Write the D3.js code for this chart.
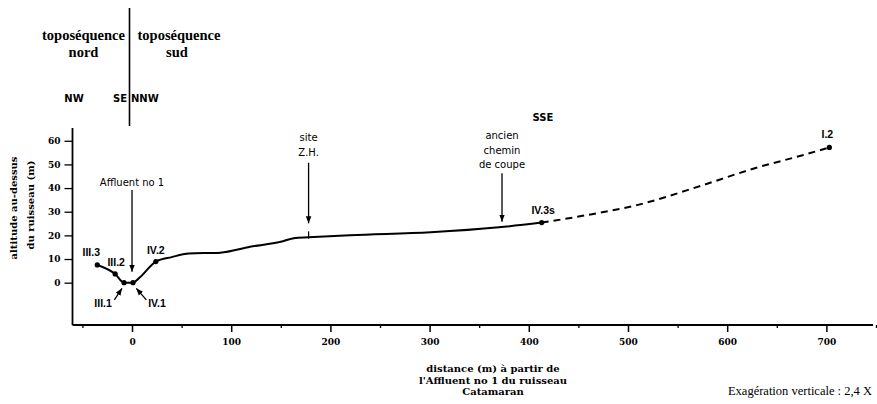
<!DOCTYPE html>
<html><head><meta charset="utf-8">
<script src="https://cdn.jsdelivr.net/npm/d3@7"></script>
<style>body{margin:0;background:#fff}svg{display:block}</style>
</head><body><svg id="c" width="877" height="404"></svg>
<script>
// ---- data ----
const profileDistance = [-35, -17, -8, 1, 8, 24, 40, 57, 89, 119, 150, 163, 178, 220, 301, 370, 413];
const profileAltitude = [7.5, 3.7, 0, 0, 2.3, 8.9, 10.8, 12.3, 12.7, 15.2, 17.3, 18.8, 19.2, 20.1, 21.3, 23.4, 25.4];
const extrapDistance = [413, 459, 509, 576, 627, 677, 703];
const extrapAltitude = [25.4, 28.6, 32.8, 41.3, 48.3, 54.0, 57.2];
const pointNames = ["III.3", "III.2", "III.1", "IV.1", "IV.2", "IV.3s", "I.2"];
const pointDistance = [-35, -17, -8, 1, 24, 413, 703];
const pointAltitude = [7.5, 3.7, 0, 0, 8.9, 25.4, 57.2];
const xTicks = [0, 100, 200, 300, 400, 500, 600, 700];
const xMinorTicks = [-50, 50, 150, 250, 350, 450, 550, 650, 750];
const yTicks = [0, 10, 20, 30, 40, 50, 60];
const siteNames = ["Affluent no 1", "site|Z.H.", "ancien|chemin|de coupe"];
const siteDistance = [0, 178, 373];

// ---- layout ----
const svg = d3.select("#c");
const x = d3.scaleLinear().domain([-60, 747]).range([72.5, 873]);
const y = d3.scaleLinear().domain([-17.9, 65.4]).range([325, 128]);
const serif = "'Liberation Serif','Times New Roman',serif";
const heavySerif = "'DejaVu Serif',serif";
const sans = "'Liberation Sans',Arial,sans-serif";
const dsans = "'DejaVu Sans',sans-serif";

svg.append("defs").append("marker")
  .attr("id", "ah").attr("viewBox", "0 0 10 10").attr("refX", 10).attr("refY", 5)
  .attr("markerWidth", 7).attr("markerHeight", 7).attr("markerUnits", "userSpaceOnUse")
  .attr("orient", "auto")
  .append("path").attr("d", "M0,1 L10,5 L0,9 Z").attr("fill", "#000");

// header
const head = svg.append("g").attr("font-family", serif).attr("font-weight", "bold")
  .attr("font-size", 14.5).attr("text-anchor", "middle").attr("fill", "#000");
head.append("text").attr("x", 83.5).attr("y", 40).text("toposéquence");
head.append("text").attr("x", 83.5).attr("y", 56.5).text("nord");
head.append("text").attr("x", 179).attr("y", 40).text("toposéquence");
head.append("text").attr("x", 177).attr("y", 56.5).text("sud");
svg.append("line").attr("x1", 129.5).attr("x2", 129.5).attr("y1", 8).attr("y2", 126)
  .attr("stroke", "#000").attr("stroke-width", 1.6);
const dirs = svg.append("g").attr("font-family", dsans).attr("font-weight", "bold")
  .attr("font-size", 10).attr("fill", "#000");
dirs.append("text").attr("x", 74).attr("y", 101.5).attr("text-anchor", "middle").text("NW");
dirs.append("text").attr("x", 127).attr("y", 101.5).attr("text-anchor", "end").text("SE");
dirs.append("text").attr("x", 131).attr("y", 101.5).attr("text-anchor", "start").text("NNW");
dirs.append("text").attr("x", 543).attr("y", 120.5).attr("text-anchor", "middle").text("SSE");

// axes
const yAxis = svg.append("g").attr("transform", `translate(${x(-60)},0)`)
  .call(d3.axisLeft(y).tickValues(yTicks).tickSize(8).tickPadding(4));
yAxis.select(".domain").remove();
yAxis.append("line").attr("x1", 0).attr("x2", 0).attr("y1", y(65.4)).attr("y2", y(-17.9))
  .attr("stroke", "#000").attr("stroke-width", 1.8);
yAxis.selectAll(".tick line").attr("stroke-width", 1.3);
yAxis.selectAll("text").attr("font-family", heavySerif).attr("font-weight", "bold")
  .attr("font-size", 9).attr("fill", "#000");

const xAxis = svg.append("g").attr("transform", `translate(0,${y(-17.9)})`)
  .call(d3.axisBottom(x).tickValues(xTicks).tickSize(7).tickPadding(7));
xAxis.select(".domain").remove();
xAxis.append("line").attr("x1", x(-60)).attr("x2", x(747)).attr("y1", 0).attr("y2", 0)
  .attr("stroke", "#000").attr("stroke-width", 2);
xAxis.selectAll(".tick line").attr("stroke-width", 1.5);
xAxis.selectAll("text").attr("font-family", heavySerif).attr("font-weight", "bold")
  .attr("font-size", 9).attr("fill", "#000");
const xMinor = svg.append("g").attr("transform", `translate(0,${y(-17.9)})`)
  .call(d3.axisBottom(x).tickValues(xMinorTicks).tickSize(3).tickFormat(""));
xMinor.select(".domain").remove();
xMinor.selectAll(".tick line").attr("stroke-width", 1.3);

// axis titles
const yt = svg.append("g").attr("font-family", heavySerif).attr("font-weight", "bold")
  .attr("font-size", 10).attr("text-anchor", "middle").attr("fill", "#000");
yt.append("text").attr("transform", "translate(17,208) rotate(-90)").text("altitude  au-dessus");
yt.append("text").attr("transform", "translate(34,205) rotate(-90)").text("du ruisseau (m)");
const xt = svg.append("g").attr("font-family", heavySerif).attr("font-weight", "bold")
  .attr("font-size", 10).attr("text-anchor", "middle").attr("fill", "#000");
["distance (m) à partir de", "l'Affluent no 1 du ruisseau", "Catamaran"].forEach((t, i) =>
  xt.append("text").attr("x", 493).attr("y", 372 + i * 11.7).text(t));
svg.append("text").attr("x", 872).attr("y", 395).attr("text-anchor", "end")
  .attr("font-family", serif).attr("font-size", 12.5).attr("fill", "#000")
  .text("Exagération verticale : 2,4 X");

// profile lines
const solid = profileDistance.map((d, i) => [d, profileAltitude[i]]);
const dashed = extrapDistance.map((d, i) => [d, extrapAltitude[i]]);
const line = d3.line().x(d => x(d[0])).y(d => y(d[1])).curve(d3.curveMonotoneX);
svg.append("path").attr("d", line(solid)).attr("fill", "none")
  .attr("stroke", "#000").attr("stroke-width", 2).attr("stroke-linejoin", "round");
svg.append("path").attr("d", line(dashed)).attr("fill", "none")
  .attr("stroke", "#000").attr("stroke-width", 2).attr("stroke-dasharray", "7,5");

// points
const pts = pointNames.map((n, i) => ({ n, d: pointDistance[i], a: pointAltitude[i] }));
svg.append("g").selectAll("circle").data(pts).join("circle")
  .attr("cx", p => x(p.d)).attr("cy", p => y(p.a)).attr("r", 2.6).attr("fill", "#000");

// point label offsets (px)
const labelOffset = {
  "III.3": [-6, -13], "III.2": [1, -11.5], "III.1": [-21, 20], "IV.1": [24, 20],
  "IV.2": [0, -12], "IV.3s": [1.5, -13], "I.2": [-2, -13.5]
};
svg.append("g").attr("font-family", sans).attr("font-weight", "bold").attr("font-size", 10.5)
  .attr("text-anchor", "middle").attr("fill", "#000")
  .selectAll("text").data(pts).join("text")
  .attr("x", p => x(p.d) + labelOffset[p.n][0])
  .attr("y", p => y(p.a) + labelOffset[p.n][1])
  .attr("dominant-baseline", "central").text(p => p.n);

// small arrows to III.1 and IV.1
const arrow = (x1, y1, x2, y2) => svg.append("line")
  .attr("x1", x(x1)).attr("y1", y(y1)).attr("x2", x(x2)).attr("y2", y(y2))
  .attr("stroke", "#000").attr("stroke-width", 1.3).attr("marker-end", "url(#ah)");
arrow(-17.8, -7.3, -10.1, -2.4);
arrow(14.4, -7.3, 4.3, -2.4);

// site annotations
const siteLayout = [
  { top: 42.3, from: 39.2, to: 4.6 },
  { top: 61.5, from: 50.7, to: 25.1 },
  { top: 62.3, from: 46.3, to: 25.8 }
];
siteNames.forEach((s, i) => {
  const L = siteLayout[i];
  const lines = s.split("|");
  const g = svg.append("g").attr("font-family", dsans).attr("font-size", 10)
    .attr("text-anchor", "middle").attr("fill", "#000");
  lines.forEach((t, j) => g.append("text").attr("x", x(siteDistance[i]))
    .attr("y", y(L.top) + j * 14.8).attr("dominant-baseline", "central").text(t));
  arrow(siteDistance[i], L.from, siteDistance[i], L.to);
});
// small tick at site Z.H.
svg.append("line").attr("x1", x(178)).attr("x2", x(178)).attr("y1", y(21.7)).attr("y2", y(18.6))
  .attr("stroke", "#000").attr("stroke-width", 1.2);
</script></body></html>
